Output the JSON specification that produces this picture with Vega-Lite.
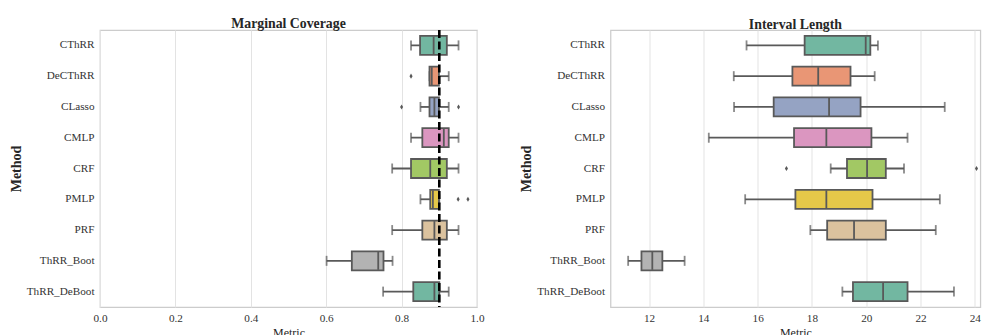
{
  "$schema": "https://vega.github.io/schema/vega-lite/v6.json",
  "padding": {"left": 8, "top": 16, "right": 0, "bottom": 0},
  "bounds": "flush",
  "spacing": 133.5,
  "config": {
    "font": "Liberation Serif",
    "view": {"stroke": "#cccccc", "strokeWidth": 1.25},
    "axis": {"labelFont": "Liberation Serif", "labelFontSize": 11.2, "labelColor": "#333333", "titleFont": "Liberation Serif", "titleColor": "#262626", "ticks": false, "domain": false, "gridColor": "#e3e3e3", "gridWidth": 1},
    "axisY": {"grid": false, "labelPadding": 6, "titleFontSize": 14, "titleFontWeight": "bold", "titlePadding": 3},
    "axisX": {"labelPadding": 5, "titleFontSize": 12, "titleFontWeight": "normal", "titlePadding": 4, "labelFlush": false},
    "title": {"font": "Liberation Serif", "fontSize": 13.8, "fontWeight": "bold", "color": "#262626", "offset": -2}
  },
  "datasets": {
    "coverage": [
      {"method": "CThRR", "lo": 0.825, "q1": 0.849, "med": 0.885, "q3": 0.920, "hi": 0.951},
      {"method": "DeCThRR", "lo": 0.874, "q1": 0.874, "med": 0.880, "q3": 0.899, "hi": 0.925},
      {"method": "CLasso", "lo": 0.850, "q1": 0.874, "med": 0.887, "q3": 0.899, "hi": 0.925},
      {"method": "CMLP", "lo": 0.825, "q1": 0.855, "med": 0.912, "q3": 0.925, "hi": 0.951},
      {"method": "CRF", "lo": 0.775, "q1": 0.825, "med": 0.876, "q3": 0.920, "hi": 0.951},
      {"method": "PMLP", "lo": 0.850, "q1": 0.876, "med": 0.883, "q3": 0.899, "hi": 0.900},
      {"method": "PRF", "lo": 0.775, "q1": 0.855, "med": 0.887, "q3": 0.920, "hi": 0.951},
      {"method": "ThRR_Boot", "lo": 0.601, "q1": 0.668, "med": 0.738, "q3": 0.752, "hi": 0.776},
      {"method": "ThRR_DeBoot", "lo": 0.751, "q1": 0.831, "med": 0.887, "q3": 0.900, "hi": 0.925}
    ],
    "coverage_out": [
      {"method": "DeCThRR", "value": 0.825},
      {"method": "CLasso", "value": 0.800},
      {"method": "CLasso", "value": 0.951},
      {"method": "PMLP", "value": 0.950},
      {"method": "PMLP", "value": 0.976}
    ],
    "length": [
      {"method": "CThRR", "lo": 15.59, "q1": 17.73, "med": 19.98, "q3": 20.15, "hi": 20.43},
      {"method": "DeCThRR", "lo": 15.12, "q1": 17.28, "med": 18.23, "q3": 19.42, "hi": 20.31},
      {"method": "CLasso", "lo": 15.13, "q1": 16.59, "med": 18.63, "q3": 19.79, "hi": 22.89},
      {"method": "CMLP", "lo": 14.20, "q1": 17.34, "med": 18.53, "q3": 20.19, "hi": 21.52},
      {"method": "CRF", "lo": 18.69, "q1": 19.29, "med": 20.03, "q3": 20.72, "hi": 21.39},
      {"method": "PMLP", "lo": 15.54, "q1": 17.39, "med": 18.53, "q3": 20.23, "hi": 22.71},
      {"method": "PRF", "lo": 17.94, "q1": 18.56, "med": 19.55, "q3": 20.72, "hi": 22.56},
      {"method": "ThRR_Boot", "lo": 11.23, "q1": 11.72, "med": 12.12, "q3": 12.49, "hi": 13.31},
      {"method": "ThRR_DeBoot", "lo": 19.12, "q1": 19.51, "med": 20.62, "q3": 21.52, "hi": 23.23}
    ],
    "length_out": [
      {"method": "CRF", "value": 17.06},
      {"method": "CRF", "value": 24.06}
    ],
    "target": [{"target": 0.9}]
  },
  "hconcat": [
    {
      "title": "Marginal Coverage",
      "width": 377,
      "height": 277,
      "layer": [
        {
          "data": {"name": "coverage"},
          "mark": {"type": "rule", "color": "#595959", "strokeWidth": 1.8},
          "encoding": {
            "y": {"field": "method", "type": "nominal", "sort": null, "title": "Method", "scale": {"domain": ["CThRR", "DeCThRR", "CLasso", "CMLP", "CRF", "PMLP", "PRF", "ThRR_Boot", "ThRR_DeBoot"], "paddingInner": 0, "paddingOuter": 0}},
            "x": {"field": "lo", "type": "quantitative", "title": "Metric", "scale": {"domain": [0, 1], "nice": false, "zero": false}, "axis": {"values": [0, 0.2, 0.4, 0.6, 0.8, 1.0], "format": ".1f"}},
            "x2": {"field": "hi"}
          }
        },
        {
          "data": {"name": "coverage"},
          "mark": {"type": "tick", "color": "#595959", "size": 10, "thickness": 1.8},
          "encoding": {
            "y": {"field": "method", "type": "nominal", "sort": null},
            "x": {"field": "lo", "type": "quantitative"}
          }
        },
        {
          "data": {"name": "coverage"},
          "mark": {"type": "tick", "color": "#595959", "size": 10, "thickness": 1.8},
          "encoding": {
            "y": {"field": "method", "type": "nominal", "sort": null},
            "x": {"field": "hi", "type": "quantitative"}
          }
        },
        {
          "data": {"name": "coverage"},
          "mark": {"type": "bar", "size": 19, "stroke": "#595959", "strokeWidth": 1.8, "opacity": 1},
          "encoding": {
            "y": {"field": "method", "type": "nominal", "sort": null},
            "x": {"field": "q1", "type": "quantitative"},
            "x2": {"field": "q3"},
            "color": {"field": "method", "type": "nominal", "legend": null, "scale": {"domain": ["CThRR", "DeCThRR", "CLasso", "CMLP", "CRF", "PMLP", "PRF", "ThRR_Boot", "ThRR_DeBoot"], "range": ["#72b7a1", "#e99675", "#95a3c3", "#db96c0", "#a2c864", "#e5c849", "#dbc29e", "#b3b3b3", "#72b7a1"]}}
          }
        },
        {
          "data": {"name": "coverage"},
          "mark": {"type": "tick", "color": "#595959", "size": 18, "thickness": 1.8, "opacity": 1},
          "encoding": {
            "y": {"field": "method", "type": "nominal", "sort": null},
            "x": {"field": "med", "type": "quantitative"}
          }
        },
        {
          "data": {"name": "coverage_out"},
          "mark": {"type": "point", "shape": "M0,-1L0.6,0L0,1L-0.6,0Z", "filled": true, "color": "#595959", "size": 26, "opacity": 1},
          "encoding": {
            "y": {"field": "method", "type": "nominal", "sort": null},
            "x": {"field": "value", "type": "quantitative"}
          }
        },
        {
          "data": {"name": "target"},
          "mark": {"type": "rule", "color": "#000000", "strokeWidth": 2.6, "strokeDash": [8, 3.5]},
          "encoding": {
            "x": {"field": "target", "type": "quantitative"}
          }
        }
      ]
    },
    {
      "title": "Interval Length",
      "width": 369.8,
      "height": 277,
      "layer": [
        {
          "data": {"name": "length"},
          "mark": {"type": "rule", "color": "#595959", "strokeWidth": 1.8},
          "encoding": {
            "y": {"field": "method", "type": "nominal", "sort": null, "title": "Method", "scale": {"domain": ["CThRR", "DeCThRR", "CLasso", "CMLP", "CRF", "PMLP", "PRF", "ThRR_Boot", "ThRR_DeBoot"], "paddingInner": 0, "paddingOuter": 0}},
            "x": {"field": "lo", "type": "quantitative", "title": "Metric", "scale": {"domain": [10.58, 24.2], "nice": false, "zero": false}, "axis": {"values": [12, 14, 16, 18, 20, 22, 24]}},
            "x2": {"field": "hi"}
          }
        },
        {
          "data": {"name": "length"},
          "mark": {"type": "tick", "color": "#595959", "size": 10, "thickness": 1.8},
          "encoding": {
            "y": {"field": "method", "type": "nominal", "sort": null},
            "x": {"field": "lo", "type": "quantitative"}
          }
        },
        {
          "data": {"name": "length"},
          "mark": {"type": "tick", "color": "#595959", "size": 10, "thickness": 1.8},
          "encoding": {
            "y": {"field": "method", "type": "nominal", "sort": null},
            "x": {"field": "hi", "type": "quantitative"}
          }
        },
        {
          "data": {"name": "length"},
          "mark": {"type": "bar", "size": 19, "stroke": "#595959", "strokeWidth": 1.8, "opacity": 1},
          "encoding": {
            "y": {"field": "method", "type": "nominal", "sort": null},
            "x": {"field": "q1", "type": "quantitative"},
            "x2": {"field": "q3"},
            "color": {"field": "method", "type": "nominal", "legend": null, "scale": {"domain": ["CThRR", "DeCThRR", "CLasso", "CMLP", "CRF", "PMLP", "PRF", "ThRR_Boot", "ThRR_DeBoot"], "range": ["#72b7a1", "#e99675", "#95a3c3", "#db96c0", "#a2c864", "#e5c849", "#dbc29e", "#b3b3b3", "#72b7a1"]}}
          }
        },
        {
          "data": {"name": "length"},
          "mark": {"type": "tick", "color": "#595959", "size": 18, "thickness": 1.8, "opacity": 1},
          "encoding": {
            "y": {"field": "method", "type": "nominal", "sort": null},
            "x": {"field": "med", "type": "quantitative"}
          }
        },
        {
          "data": {"name": "length_out"},
          "mark": {"type": "point", "shape": "M0,-1L0.6,0L0,1L-0.6,0Z", "filled": true, "color": "#595959", "size": 26, "opacity": 1},
          "encoding": {
            "y": {"field": "method", "type": "nominal", "sort": null},
            "x": {"field": "value", "type": "quantitative"}
          }
        }
      ]
    }
  ]
}
